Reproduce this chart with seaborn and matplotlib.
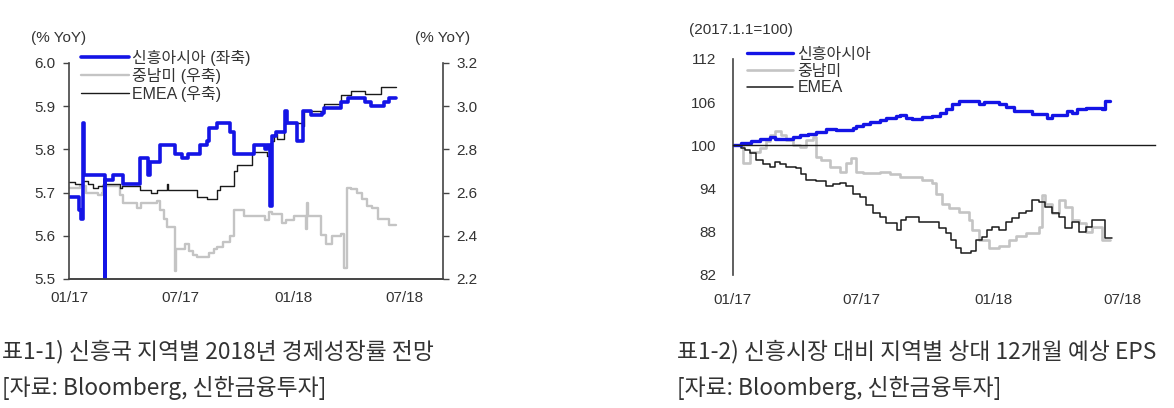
import matplotlib
matplotlib.use("Agg")
import matplotlib.dates as mdates
import matplotlib.pyplot as plt
import pandas as pd
import seaborn as sns

# --- left panel: 2018 GDP growth forecast (% YoY) ---
ASIA_GDP_DATES = [
    "2017-01-01", "2017-01-18", "2017-01-21", "2017-01-23", "2017-01-26",
    "2017-02-28", "2017-03-01", "2017-03-14", "2017-03-30", "2017-04-26",
    "2017-05-09", "2017-05-12", "2017-05-29", "2017-06-23", "2017-07-03",
    "2017-07-14", "2017-08-02", "2017-08-13", "2017-08-16", "2017-08-29",
    "2017-09-20", "2017-09-26", "2017-10-28", "2017-11-16", "2017-11-19",
    "2017-11-24", "2017-11-27", "2017-12-03", "2017-12-18", "2017-12-21",
    "2018-01-07", "2018-01-17", "2018-01-29", "2018-02-17", "2018-02-20",
    "2018-03-19", "2018-03-30", "2018-04-28", "2018-05-07", "2018-05-28",
    "2018-06-05", "2018-06-16",
]
ASIA_GDP = [
    5.69, 5.66, 5.64, 5.86, 5.74, 5.50, 5.73, 5.74, 5.72, 5.78,
    5.74, 5.77, 5.81, 5.79, 5.78, 5.79, 5.81, 5.82, 5.85, 5.86,
    5.84, 5.79, 5.81, 5.80, 5.81, 5.67, 5.83, 5.84, 5.89, 5.86,
    5.82, 5.89, 5.88, 5.885, 5.895, 5.91, 5.92, 5.91, 5.90, 5.91,
    5.92, 5.92,
]

LATAM_GDP_DATES = [
    "2017-01-01", "2017-01-19", "2017-01-29", "2017-02-17", "2017-02-23",
    "2017-02-26", "2017-03-25", "2017-03-30", "2017-04-21", "2017-04-28",
    "2017-05-24", "2017-05-29", "2017-06-04", "2017-06-09", "2017-06-22",
    "2017-06-24", "2017-07-09", "2017-07-15", "2017-07-22", "2017-07-28",
    "2017-08-16", "2017-08-24", "2017-08-29", "2017-09-09", "2017-09-20",
    "2017-09-26", "2017-10-12", "2017-11-16", "2017-11-22", "2017-11-27",
    "2017-12-14", "2017-12-19", "2018-01-02", "2018-01-22", "2018-01-23",
    "2018-01-25", "2018-02-14", "2018-02-22", "2018-03-05", "2018-03-19",
    "2018-03-24", "2018-03-29", "2018-04-04", "2018-04-15", "2018-04-23",
    "2018-05-01", "2018-05-09", "2018-05-18", "2018-06-05", "2018-06-16",
]
LATAM_GDP = [
    2.62, 2.63, 2.60, 2.59, 2.60, 2.63, 2.59, 2.55, 2.53, 2.55,
    2.56, 2.52, 2.48, 2.44, 2.235, 2.34, 2.36, 2.33, 2.31, 2.30,
    2.32, 2.34, 2.35, 2.37, 2.40, 2.52, 2.49, 2.475, 2.51, 2.50,
    2.46, 2.475, 2.49, 2.43, 2.55, 2.49, 2.405, 2.36, 2.40, 2.41,
    2.25, 2.62, 2.615, 2.60, 2.57, 2.54, 2.53, 2.48, 2.45, 2.45,
]

EMEA_GDP_DATES = [
    "2017-01-01", "2017-01-11", "2017-01-24", "2017-02-01", "2017-02-09",
    "2017-02-17", "2017-02-26", "2017-03-25", "2017-03-28", "2017-04-26",
    "2017-05-15", "2017-05-24", "2017-06-09", "2017-06-11", "2017-07-28",
    "2017-08-13", "2017-08-29", "2017-09-04", "2017-09-26", "2017-10-01",
    "2017-10-26", "2017-11-19", "2017-11-25", "2017-11-30", "2017-12-05",
    "2017-12-16", "2018-01-15", "2018-01-18", "2018-02-20", "2018-03-19",
    "2018-04-04", "2018-04-28", "2018-05-23", "2018-06-16",
]
EMEA_GDP = [
    2.65, 2.64, 2.655, 2.64, 2.62, 2.63, 2.64, 2.62, 2.63, 2.61,
    2.60, 2.61, 2.64, 2.61, 2.58, 2.57, 2.61, 2.63, 2.70, 2.73,
    2.79, 2.77, 2.84, 2.87, 2.85, 2.92, 2.91, 2.98, 3.01, 3.05,
    3.07, 3.055, 3.09, 3.09,
]

# --- right panel: relative 12m forward EPS (2017.1.1 = 100) ---
ASIA_EPS_DATES = [
    "2017-01-01", "2017-01-13", "2017-01-27", "2017-02-08", "2017-02-22",
    "2017-03-01", "2017-03-26", "2017-04-05", "2017-04-16", "2017-04-28",
    "2017-05-12", "2017-05-26", "2017-06-09", "2017-06-18", "2017-06-23",
    "2017-07-02", "2017-07-12", "2017-07-26", "2017-08-04", "2017-08-18",
    "2017-08-23", "2017-09-01", "2017-09-10", "2017-09-24", "2017-10-08",
    "2017-10-18", "2017-10-27", "2017-11-05", "2017-11-14", "2017-12-03",
    "2017-12-12", "2017-12-19", "2018-01-09", "2018-01-19", "2018-01-30",
    "2018-02-25", "2018-03-11", "2018-03-18", "2018-03-25", "2018-04-15",
    "2018-04-22", "2018-04-29", "2018-05-11", "2018-06-03", "2018-06-07",
    "2018-06-14",
]
ASIA_EPS = [
    100.0, 100.4, 100.6, 100.9, 101.1, 100.9, 101.1, 101.4, 101.6, 101.9,
    102.3, 102.1, 102.2, 102.4, 102.7, 103.0, 103.2, 103.5, 103.8, 104.1,
    104.2, 103.75, 103.6, 104.0, 104.1, 104.5, 105.0, 105.7, 106.2, 106.1,
    105.7, 106.0, 105.7, 105.4, 104.8, 104.4, 104.3, 103.8, 104.2, 104.8,
    104.5, 105.1, 105.2, 105.1, 106.2, 106.2,
]

LATAM_EPS_DATES = [
    "2017-01-01", "2017-01-16", "2017-01-25", "2017-02-08", "2017-02-17",
    "2017-02-22", "2017-03-01", "2017-03-10", "2017-03-17", "2017-03-26",
    "2017-04-05", "2017-04-14", "2017-04-23", "2017-04-28", "2017-05-05",
    "2017-05-17", "2017-05-31", "2017-06-09", "2017-06-16", "2017-06-23",
    "2017-07-02", "2017-07-26", "2017-08-09", "2017-08-23", "2017-09-24",
    "2017-10-08", "2017-10-13", "2017-10-22", "2017-10-31", "2017-11-14",
    "2017-11-28", "2017-12-03", "2017-12-12", "2017-12-26", "2018-01-09",
    "2018-01-23", "2018-02-02", "2018-02-16", "2018-03-06", "2018-03-11",
    "2018-03-15", "2018-03-25", "2018-04-03", "2018-04-12", "2018-04-22",
    "2018-05-01", "2018-05-11", "2018-05-20", "2018-06-03", "2018-06-14",
]
LATAM_EPS = [
    100.0, 97.5, 99.1, 99.6, 100.6, 101.4, 102.0, 101.4, 100.7, 100.1,
    99.8, 100.7, 101.2, 98.4, 98.0, 97.0, 96.3, 97.5, 98.2, 96.3,
    96.1, 96.3, 96.0, 95.6, 95.2, 94.8, 93.3, 91.9, 91.25, 90.8,
    89.6, 88.3, 86.9, 85.7, 86.0, 86.8, 87.4, 87.8, 88.7, 93.1,
    91.9, 90.6, 92.4, 91.5, 89.7, 89.2, 88.0, 88.7, 86.9, 86.9,
]

EMEA_EPS_DATES = [
    "2017-01-01", "2017-01-13", "2017-01-18", "2017-01-25", "2017-02-03",
    "2017-02-12", "2017-02-22", "2017-03-01", "2017-03-08", "2017-03-17",
    "2017-03-31", "2017-04-07", "2017-04-14", "2017-04-28", "2017-05-12",
    "2017-05-21", "2017-05-31", "2017-06-09", "2017-06-18", "2017-06-28",
    "2017-07-07", "2017-07-16", "2017-07-26", "2017-08-04", "2017-08-20",
    "2017-08-25", "2017-09-01", "2017-09-19", "2017-10-08", "2017-10-17",
    "2017-10-27", "2017-11-03", "2017-11-10", "2017-11-17", "2017-12-01",
    "2017-12-08", "2017-12-17", "2017-12-24", "2017-12-31", "2018-01-09",
    "2018-01-19", "2018-01-28", "2018-02-07", "2018-02-16", "2018-02-25",
    "2018-03-06", "2018-03-15", "2018-03-25", "2018-04-03", "2018-04-12",
    "2018-04-22", "2018-05-01", "2018-05-11", "2018-05-20", "2018-05-29",
    "2018-06-07", "2018-06-17",
]
EMEA_EPS = [
    100.0, 99.6, 99.3, 98.9, 98.0, 97.4, 97.0, 97.7, 97.4, 97.0,
    96.8, 96.0, 95.2, 95.0, 94.3, 94.7, 94.8, 94.4, 93.3, 92.9,
    91.7, 90.6, 90.1, 89.2, 88.2, 89.6, 90.1, 89.4, 89.3, 88.5,
    87.8, 86.9, 85.7, 85.0, 85.4, 86.9, 87.3, 88.3, 88.7, 88.3,
    89.4, 89.9, 90.6, 90.9, 92.4, 92.2, 91.5, 90.6, 90.1, 88.5,
    89.4, 88.0, 88.7, 89.7, 89.6, 87.2, 87.2,
]

X_TICKS = ["2017-01-01", "2017-07-01", "2018-01-01", "2018-07-01"]
GDP_LABELS = ["신흥아시아 (좌축)", "중남미 (우축)", "EMEA (우축)"]
EPS_LABELS = ["신흥아시아", "중남미", "EMEA"]
CAPTIONS = [
    "표1-1) 신흥국 지역별 2018년 경제성장률 전망",
    "표1-2) 신흥시장 대비 지역별 상대 12개월 예상 EPS",
]
SOURCE = "[자료: Bloomberg, 신한금융투자]"

BLUE = "#1414E6"
GREY = "#C4C4C4"
BLACK = "#1A1A1A"
TXT = "#333333"
FS = 11

sns.set_style("white")
plt.rcParams["font.family"] = ["Liberation Sans", "Noto Sans CJK KR"]
plt.rcParams["axes.edgecolor"] = "#444444"
plt.rcParams["xtick.color"] = "#444444"
plt.rcParams["ytick.color"] = "#444444"

W, H = 1174, 408


def series(dates, values):
    return pd.DataFrame({"date": pd.to_datetime(dates), "value": values})


def step(ax, dates, values, color, lw):
    sns.lineplot(data=series(dates, values), x="date", y="value", ax=ax,
                 color=color, lw=lw, drawstyle="steps-post", legend=False)


fig = plt.figure(figsize=(W / 100, H / 100), dpi=100)

# ---------- left panel ----------
ax1 = fig.add_axes([69 / W, 1 - 279 / H, (443 - 69) / W, (279 - 63) / H])
ax1r = ax1.twinx()
step(ax1r, LATAM_GDP_DATES, LATAM_GDP, GREY, 1.7)
step(ax1r, EMEA_GDP_DATES, EMEA_GDP, BLACK, 1.0)
step(ax1, ASIA_GDP_DATES, ASIA_GDP, BLUE, 2.6)
ax1.set_zorder(ax1r.get_zorder() + 1)
ax1.patch.set_visible(False)

ax1.set_ylim(5.5, 6.0)
ax1.set_yticks([5.5, 5.6, 5.7, 5.8, 5.9, 6.0])
ax1.yaxis.set_major_formatter(matplotlib.ticker.FormatStrFormatter("%.1f"))
ax1r.set_ylim(2.2, 3.2)
ax1r.set_yticks([2.2, 2.4, 2.6, 2.8, 3.0, 3.2])
ax1r.yaxis.set_major_formatter(matplotlib.ticker.FormatStrFormatter("%.1f"))
ax1.set_xlim(pd.Timestamp("2017-01-01"), pd.Timestamp("2018-09-01"))

for a in (ax1, ax1r):
    a.set_xlabel("")
    a.set_ylabel("")
    a.spines["top"].set_visible(False)
    for s in ("left", "right", "bottom"):
        a.spines[s].set_linewidth(1.2)
    a.tick_params(direction="out", length=4.5, width=1.0, labelsize=FS,
                  labelcolor=TXT, pad=5)
ax1r.spines["left"].set_visible(False)
ax1.spines["right"].set_visible(False)
ax1.set_xticks(pd.to_datetime(X_TICKS))
ax1.xaxis.set_major_formatter(mdates.DateFormatter("%m/%y"))
ax1.tick_params(axis="x", pad=4)

h1 = [ax1.get_lines()[0]] + ax1r.get_lines()[:2]
ax1.legend(h1, GDP_LABELS, loc="upper left", bbox_to_anchor=(81 / W, 1 - 50 / H),
           bbox_transform=fig.transFigure, frameon=False, fontsize=11.5,
           handlelength=3.0, handletextpad=0.2, labelspacing=0.12,
           borderpad=0, borderaxespad=0, labelcolor=TXT)

fig.text(31 / W, 1 - 38 / H, "(% YoY)", fontsize=FS, color=TXT, va="center")
fig.text(415 / W, 1 - 38 / H, "(% YoY)", fontsize=FS, color=TXT, va="center")

# ---------- right panel ----------
ax2 = fig.add_axes([732.7 / W, 1 - 275 / H, (1155 - 732.7) / W, (275 - 59) / H])
step(ax2, LATAM_EPS_DATES, LATAM_EPS, GREY, 1.9)
step(ax2, EMEA_EPS_DATES, EMEA_EPS, BLACK, 1.1)
step(ax2, ASIA_EPS_DATES, ASIA_EPS, BLUE, 2.4)
ax2.set_ylim(82, 112)
ax2.set_yticks([82, 88, 94, 100, 106, 112])
ax2.set_xlim(pd.Timestamp("2017-01-01"), pd.Timestamp("2018-08-16"))
ax2.set_xlabel("")
ax2.set_ylabel("")
ax2.spines["top"].set_visible(False)
ax2.spines["right"].set_visible(False)
ax2.spines["left"].set_linewidth(1.2)
ax2.spines["bottom"].set_position(("data", 100))
ax2.spines["bottom"].set_color(BLACK)
ax2.spines["bottom"].set_linewidth(1.0)
ax2.set_xticks(pd.to_datetime(X_TICKS))
ax2.xaxis.set_major_formatter(mdates.DateFormatter("%m/%y"))
ax2.tick_params(direction="out", length=4, width=1.0, labelsize=FS,
                labelcolor=TXT, pad=8)
ax2.tick_params(axis="x", pad=102)

lines2 = ax2.get_lines()
h2 = [lines2[2], lines2[0], lines2[1]]
ax2.legend(h2, EPS_LABELS, loc="upper left", bbox_to_anchor=(747 / W, 1 - 47 / H),
           bbox_transform=fig.transFigure, frameon=False, fontsize=11.5,
           handlelength=2.9, handletextpad=0.25, labelspacing=0.1,
           borderpad=0, borderaxespad=0, labelcolor=TXT)

fig.text(689 / W, 1 - 30 / H, "(2017.1.1=100)", fontsize=FS, color=TXT, va="center")

# ---------- captions ----------
cap_font = ["Noto Sans CJK KR", "DejaVu Sans"]
for x0, cap in zip((2, 677), CAPTIONS):
    fig.text(x0 / W, 1 - 352 / H, cap, fontsize=16.4, color=TXT, va="center",
             family=cap_font)
    fig.text(x0 / W, 1 - 388 / H, SOURCE, fontsize=16.4, color=TXT, va="center",
             family=cap_font)

fig.savefig("out.png", dpi=100, facecolor="white")
